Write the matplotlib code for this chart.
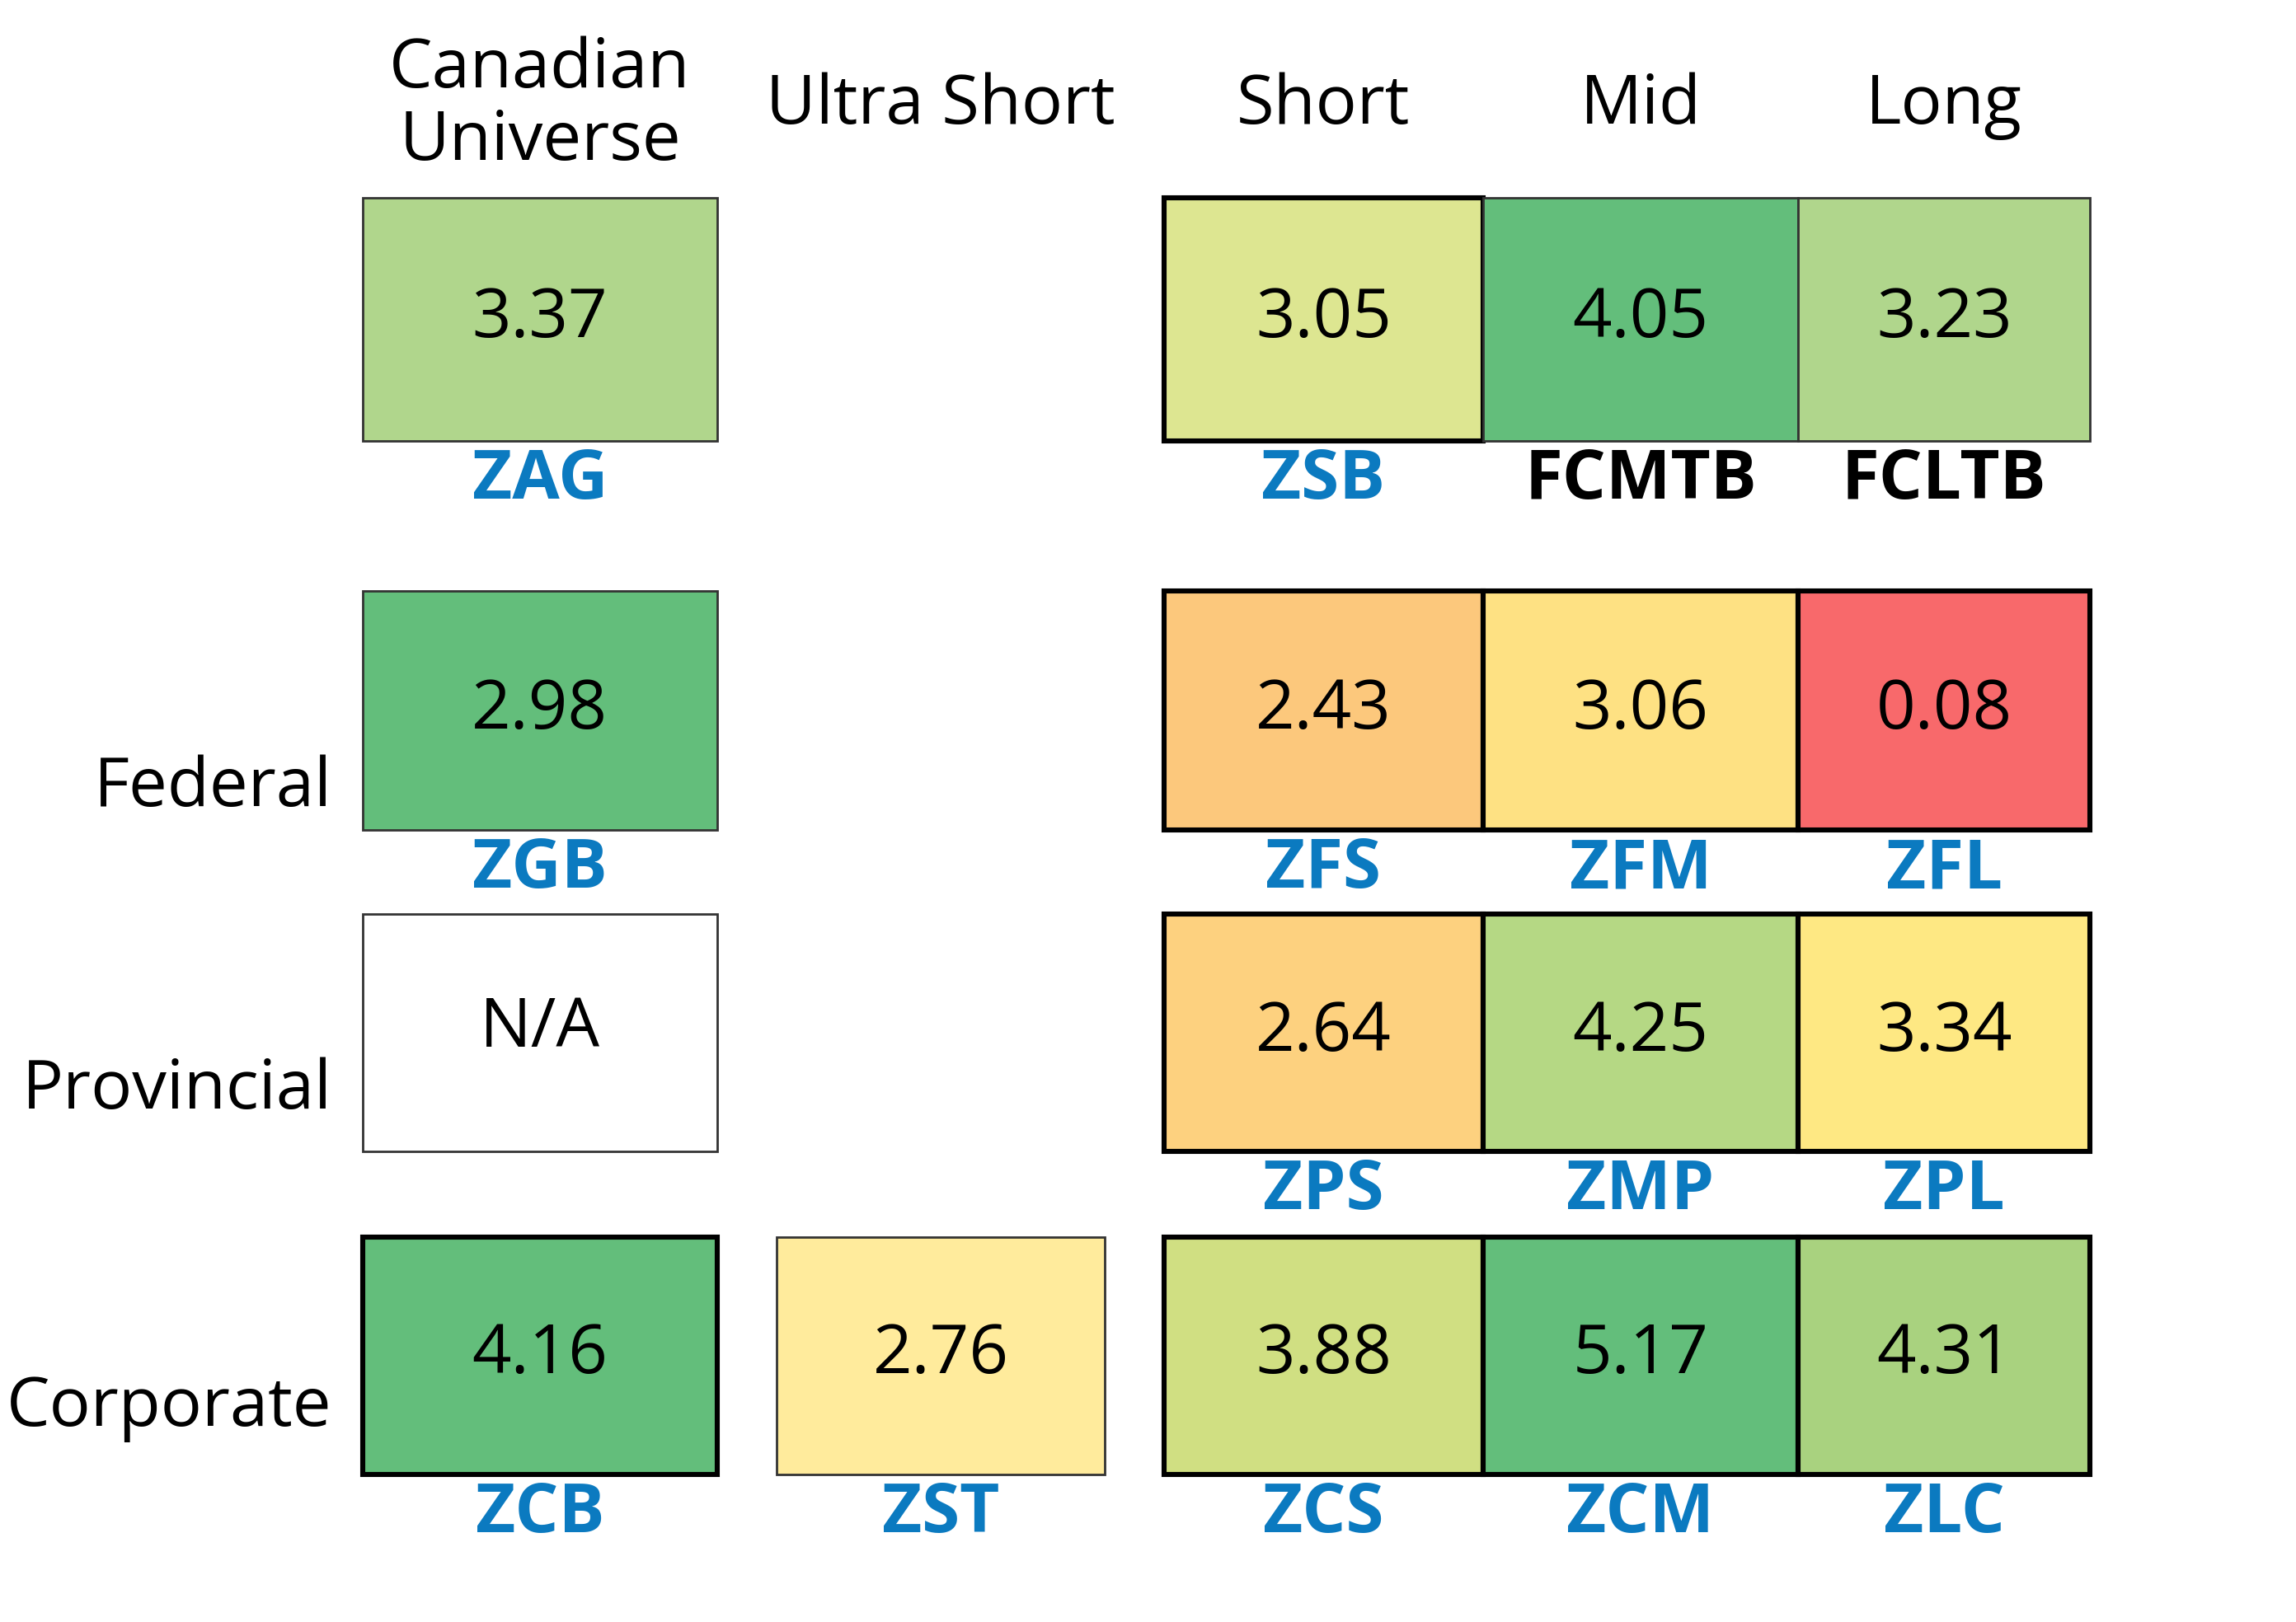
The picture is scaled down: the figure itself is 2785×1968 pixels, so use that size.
import matplotlib.pyplot as plt
from matplotlib.patches import Rectangle

plt.rcParams['font.family'] = ['Liberation Sans Narrow', 'Open Sans', 'DejaVu Sans']

columns = ['Canadian\nUniverse', 'Ultra Short', 'Short', 'Mid', 'Long']
rows = ['', 'Federal', 'Provincial', 'Corporate']

# values per row (None = empty slot)
values = [
    [3.37, None, 3.05, 4.05, 3.23],
    [2.98, None, 2.43, 3.06, 0.08],
    ['N/A', None, 2.64, 4.25, 3.34],
    [4.16, 2.76, 3.88, 5.17, 4.31],
]
tickers = [
    ['ZAG', None, 'ZSB', 'FCMTB', 'FCLTB'],
    ['ZGB', None, 'ZFS', 'ZFM', 'ZFL'],
    ['', None, 'ZPS', 'ZMP', 'ZPL'],
    ['ZCB', 'ZST', 'ZCS', 'ZCM', 'ZLC'],
]
colors = [
    ['#b0d68c', None, '#dde691', '#63be7b', '#b0d68c'],
    ['#63be7b', None, '#fcc87c', '#fee183', '#f8696b'],
    ['#ffffff', None, '#fdd17f', '#b5d884', '#fee883'],
    ['#63be7b', '#ffeb9c', '#d0df82', '#63be7b', '#a9d27f'],
]
thick = [
    [False, False, True, False, False],
    [False, False, True, True, True],
    [False, False, True, True, True],
    [True, False, True, True, True],
]
black_tickers = {'FCMTB', 'FCLTB'}

# layout (in reference pixel units)
col_x = [(245, 484), (524, 746), (786, 1001), (1001, 1214), (1214, 1411)]
row_y = [(134, 299), (401, 563), (620, 781), (839, 1000)]
row_label_y = [0, 535, 740, 955]

fig = plt.figure(figsize=(13.925, 9.84), dpi=200)
ax = fig.add_axes([0, 0, 1, 1])
ax.set_xlim(0, 1550)
ax.set_ylim(1100, 0)
ax.axis('off')

for j, name in enumerate(columns):
    cx = sum(col_x[j]) / 2
    ax.text(cx, 72, name, ha='center', va='center', fontsize=30, linespacing=1.1)

for i, name in enumerate(rows):
    if name:
        ax.text(224, row_label_y[i], name, ha='right', va='center', fontsize=30)

for i in range(len(rows)):
    y0, y1 = row_y[i]
    for j in range(len(columns)):
        v = values[i][j]
        if v is None:
            continue
        x0, x1 = col_x[j]
        lw, ec = (2.2, 'black') if thick[i][j] else (1.0, '#333333')
        ax.add_patch(Rectangle((x0, y0), x1 - x0, y1 - y0, facecolor=colors[i][j],
                               edgecolor=ec, linewidth=lw))
        txt = v if isinstance(v, str) else f'{v:.2f}'
        ax.text((x0 + x1) / 2, (y0 + y1) / 2 if v != 'N/A' else y0 + 78, txt,
                ha='center', va='center', fontsize=30)
        t = tickers[i][j]
        if t:
            c = 'black' if t in black_tickers else '#0b7ac0'
            ax.text((x0 + x1) / 2, y1 + 27, t, ha='center', va='center',
                    fontsize=30, color=c, fontweight='bold')

fig.savefig('out.png', dpi=200, facecolor='white')
